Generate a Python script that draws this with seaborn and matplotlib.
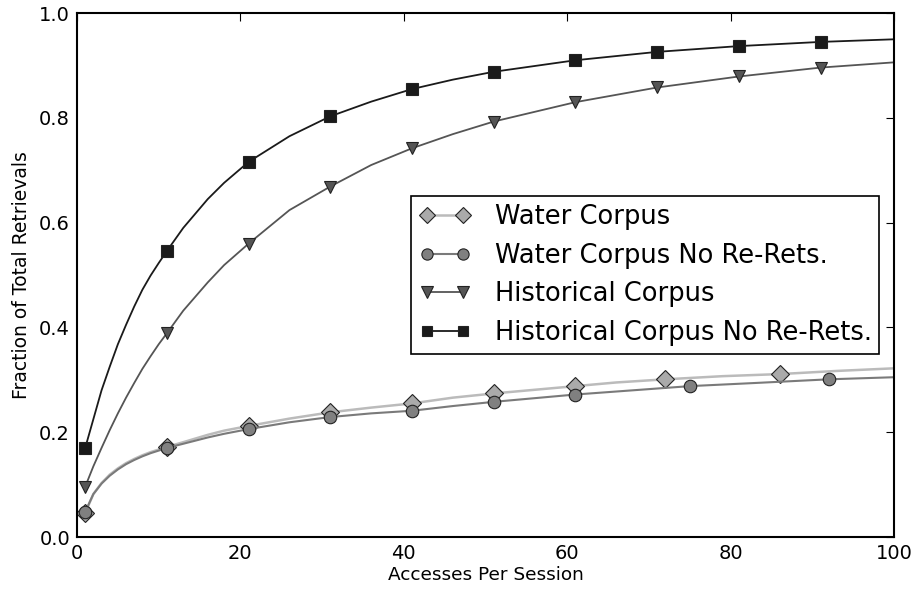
import matplotlib
matplotlib.use("Agg")
import matplotlib.pyplot as plt
import seaborn as sns
import pandas as pd

# ---- data ----
water_x = [1, 2, 3, 4, 5, 6, 7, 8, 9, 10, 11, 13, 16, 18, 21, 26, 31, 36, 41, 46, 51, 56, 61, 66,
           72, 79, 86, 93, 100]
water_y = [0.046, 0.082, 0.103, 0.119, 0.131, 0.141, 0.149, 0.156, 0.162, 0.167, 0.172, 0.181,
           0.195, 0.203, 0.212, 0.226, 0.238, 0.247, 0.255, 0.266, 0.274, 0.281, 0.288, 0.295,
           0.301, 0.307, 0.311, 0.317, 0.322]
water_marks = [1, 11, 21, 31, 41, 51, 61, 72, 86]

waternr_x = [1, 2, 3, 4, 5, 6, 7, 8, 9, 10, 11, 13, 16, 18, 21, 26, 31, 36, 41, 46, 51, 56, 61,
             68, 75, 83, 92, 100]
waternr_y = [0.048, 0.082, 0.102, 0.117, 0.129, 0.139, 0.147, 0.154, 0.160, 0.165, 0.170, 0.178,
             0.190, 0.197, 0.206, 0.219, 0.229, 0.236, 0.241, 0.250, 0.258, 0.265, 0.272,
             0.280, 0.288, 0.294, 0.301, 0.305]
waternr_marks = [1, 11, 21, 31, 41, 51, 61, 75, 92]

hist_x = [1, 2, 3, 4, 5, 6, 7, 8, 9, 10, 11, 13, 16, 18, 21, 26, 31, 36, 41, 46, 51, 61, 71,
          81, 91, 100]
hist_y = [0.096, 0.135, 0.170, 0.204, 0.236, 0.266, 0.294, 0.321, 0.345, 0.368, 0.389, 0.432,
          0.486, 0.519, 0.560, 0.624, 0.669, 0.710, 0.742, 0.769, 0.793, 0.830, 0.858, 0.879,
          0.896, 0.906]
hist_marks = [1, 11, 21, 31, 41, 51, 61, 71, 81, 91]

histnr_x = [1, 2, 3, 4, 5, 6, 7, 8, 9, 10, 11, 13, 16, 18, 21, 26, 31, 36, 41, 46, 51, 61, 71,
            81, 91, 100]
histnr_y = [0.170, 0.225, 0.280, 0.325, 0.368, 0.405, 0.440, 0.472, 0.499, 0.523, 0.546, 0.590,
            0.645, 0.676, 0.716, 0.765, 0.803, 0.831, 0.855, 0.873, 0.888, 0.910, 0.926, 0.937,
            0.945, 0.950]
histnr_marks = [1, 11, 21, 31, 41, 51, 61, 71, 81, 91]

labels = ["Water Corpus", "Water Corpus No Re-Rets.", "Historical Corpus",
          "Historical Corpus No Re-Rets."]

sns.set_style("white")
plt.rcParams['font.family'] = ['DejaVu Sans']
plt.rcParams['text.color'] = 'black'
plt.rcParams['axes.labelcolor'] = 'black'

fig = plt.figure(figsize=(9.17, 5.90), dpi=100)
ax = fig.add_axes([0.084, 0.0898, 0.891, 0.888])

series = [
    (water_x, water_y, water_marks, labels[0], "#bbbbbb", "#aaaaaa", "D", 9.0, 1.8),
    (waternr_x, waternr_y, waternr_marks, labels[1], "#7a7a7a", "#808080", "o", 9.0, 1.5),
    (hist_x, hist_y, hist_marks, labels[2], "#555555", "#555555", "v", 9.0, 1.3),
    (histnr_x, histnr_y, histnr_marks, labels[3], "#1a1a1a", "#1a1a1a", "s", 8.5, 1.3),
]

for xs, ys, marks, lab, lc, mfc, mk, ms, lw in series:
    df = pd.DataFrame({"x": xs, "y": ys})
    idx = [xs.index(m) for m in marks]
    sns.lineplot(data=df, x="x", y="y", ax=ax, color=lc, linewidth=lw,
                 marker=mk, markersize=ms, markerfacecolor=mfc,
                 markeredgecolor="#222222", markeredgewidth=0.8,
                 markevery=idx, label=lab)

ax.set_xlim(0, 100)
ax.set_ylim(0, 1.0)
ax.set_xticks([0, 20, 40, 60, 80, 100])
ax.set_yticks([0.0, 0.2, 0.4, 0.6, 0.8, 1.0])
ax.set_yticklabels(["0.0", "0.2", "0.4", "0.6", "0.8", "1.0"])
ax.tick_params(direction="in", length=6, width=0.8, top=True, right=True,
               labelsize=14, colors="black", pad=5)
for s in ax.spines.values():
    s.set_visible(True)
    s.set_color("black")
    s.set_linewidth(1.5)

ax.set_xlabel("Accesses Per Session", fontsize=13.3, labelpad=2)
ax.set_ylabel("Fraction of Total Retrievals", fontsize=13.5, labelpad=6)

leg = ax.legend(loc="upper left", bbox_to_anchor=(0.409, 0.651), fontsize=18.5,
                frameon=True, fancybox=False, shadow=False, numpoints=2, markerscale=0.9,
                borderpad=0.3, labelspacing=0.5, handlelength=2.0, handletextpad=0.95,
                borderaxespad=0)
leg.get_frame().set_edgecolor("black")
leg.get_frame().set_linewidth(1.2)
leg.get_frame().set_alpha(1)

fig.savefig("out.png", dpi=100)
